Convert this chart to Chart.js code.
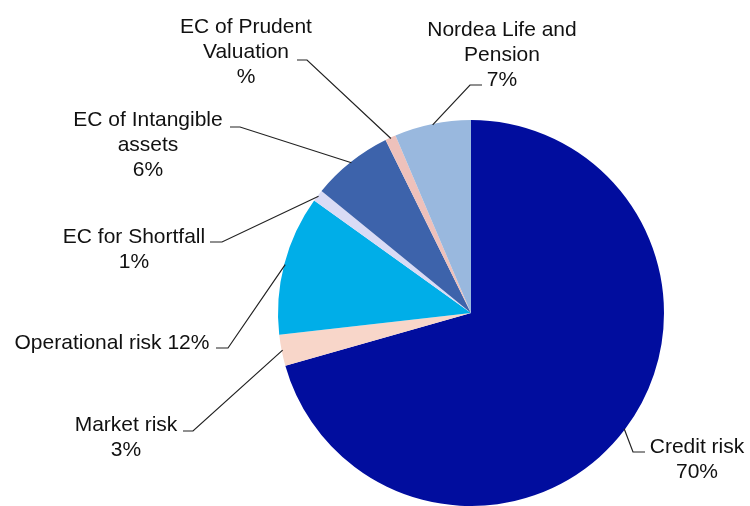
<!DOCTYPE html>
<html>
<head>
<meta charset="utf-8">
<script src="https://cdn.jsdelivr.net/npm/chart.js@4/dist/chart.umd.min.js"></script>
<style>
    html, body { margin: 0; padding: 0; background: #fff; }
    #chart { display: block; }
</style>
</head>
<body>
<canvas id="chart" width="750" height="506"></canvas>
<script>
// 数据
const categories = [
    'Credit risk',
    'Market risk',
    'Operational risk',
    'EC for Shortfall',
    'EC of Intangible assets',
    'EC of Prudent Valuation',
    'Nordea Life and Pension',
];
const shares = [70.6, 2.6, 11.7, 1.0, 6.8, 0.9, 6.4];
const pctLabels = ['70%', '3%', '12%', '1%', '6%', '%', '7%'];
const labelLines = [
    ['Credit risk', '70%'],
    ['Market risk', '3%'],
    ['Operational risk 12%'],
    ['EC for Shortfall', '1%'],
    ['EC of Intangible', 'assets', '6%'],
    ['EC of Prudent', 'Valuation', '%'],
    ['Nordea Life and', 'Pension', '7%'],
];
const sliceColors = ['#010d9e', '#f8d6c9', '#00aee8', '#d9dbf5', '#3d63ab', '#eec1bb', '#99b8de'];

// 标签位置 (文本中心x, 首行y, 拐点, 短横线终点)
const labelLayout = [
    { cx: 697, y: 447, elbow: [633, 452], tick: [645, 452] },
    { cx: 126, y: 425, elbow: [193, 431], tick: [183, 431] },
    { cx: 112, y: 343, elbow: [228, 348], tick: [216, 348] },
    { cx: 134, y: 237, elbow: [222, 242], tick: [210, 242] },
    { cx: 148, y: 120, elbow: [240, 127], tick: [230, 127] },
    { cx: 246, y: 27, elbow: [307, 60], tick: [297, 60] },
    { cx: 502, y: 30, elbow: [470, 85], tick: [482, 85] },
];
const LINE_GAP = 25;

const leaderLabels = {
    id: 'leaderLabels',
    afterDatasetsDraw(chart) {
        const ctx = chart.ctx;
        const meta = chart.getDatasetMeta(0);
        ctx.save();
        meta.data.forEach((arc, i) => {
            const lay = labelLayout[i];
            const mid = (arc.startAngle + arc.endAngle) / 2;
            const r = arc.outerRadius - 1;
            const px = arc.x + Math.cos(mid) * r;
            const py = arc.y + Math.sin(mid) * r;

            // 引导线
            ctx.strokeStyle = '#222';
            ctx.lineWidth = 1.2;
            ctx.beginPath();
            ctx.moveTo(px, py);
            ctx.lineTo(lay.elbow[0], lay.elbow[1]);
            ctx.lineTo(lay.tick[0], lay.tick[1]);
            ctx.stroke();

            // 文本
            ctx.fillStyle = '#111';
            ctx.font = '21px "Liberation Sans", Arial, sans-serif';
            ctx.textAlign = 'center';
            ctx.textBaseline = 'middle';
            labelLines[i].forEach((t, j) => {
                ctx.fillText(t, lay.cx, lay.y + j * LINE_GAP);
            });
        });
        ctx.restore();
    },
};

new Chart(document.getElementById('chart'), {
    type: 'pie',
    data: {
        labels: categories,
        datasets: [{
            data: shares,
            backgroundColor: sliceColors,
            borderWidth: 0,
        }],
    },
    options: {
        responsive: false,
        animation: false,
        layout: { padding: { top: 120, bottom: 0, left: 278, right: 86 } },
        plugins: {
            legend: { display: false },
            tooltip: { enabled: false },
        },
    },
    plugins: [leaderLabels],
});
</script>
</body>
</html>
